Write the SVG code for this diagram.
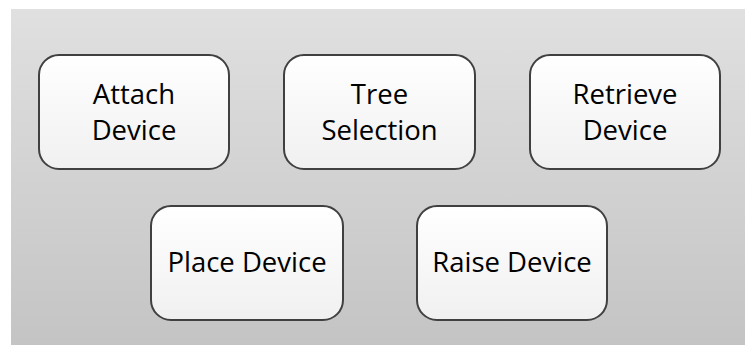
<svg xmlns="http://www.w3.org/2000/svg" width="745" height="345" viewBox="0 0 745 345">
  <defs>
    <linearGradient id="bg" x1="0" y1="0" x2="0" y2="1">
      <stop offset="0" stop-color="#e0e0e0"/>
      <stop offset="1" stop-color="#c4c4c4"/>
    </linearGradient>
    <linearGradient id="boxFill" x1="0" y1="0" x2="0" y2="1">
      <stop offset="0" stop-color="#ffffff"/>
      <stop offset="1" stop-color="#f0f0f0"/>
    </linearGradient>
  </defs>
  <style>
    .box { fill: url(#boxFill); stroke: #404040; stroke-width: 2; }
    .label { font-family: "Open Sans", "Liberation Sans", sans-serif; font-size: 27.5px; fill: #000; text-anchor: middle; }
  </style>
  <rect x="0" y="0" width="745" height="345" fill="#ffffff"/>
  <rect x="11" y="9" width="734" height="336" fill="url(#bg)"/>
  <g id="connectors"/>
  <g id="attach-device">
    <rect class="box" x="39" y="55" width="190" height="114" rx="20" ry="20"/>
    <text class="label" x="134" y="104">Attach</text>
    <text class="label" x="134" y="140">Device</text>
  </g>
  <g id="tree-selection">
    <rect class="box" x="284" y="55" width="191" height="114" rx="20" ry="20"/>
    <text class="label" x="379.5" y="104">Tree</text>
    <text class="label" x="379.5" y="140">Selection</text>
  </g>
  <g id="retrieve-device">
    <rect class="box" x="530" y="55" width="190" height="114" rx="20" ry="20"/>
    <text class="label" x="625" y="104">Retrieve</text>
    <text class="label" x="625" y="140">Device</text>
  </g>
  <g id="place-device">
    <rect class="box" x="151" y="206" width="192" height="114" rx="20" ry="20"/>
    <text class="label" x="247" y="272">Place Device</text>
  </g>
  <g id="raise-device">
    <rect class="box" x="417" y="206" width="190" height="114" rx="20" ry="20"/>
    <text class="label" x="512" y="272">Raise Device</text>
  </g>
</svg>
